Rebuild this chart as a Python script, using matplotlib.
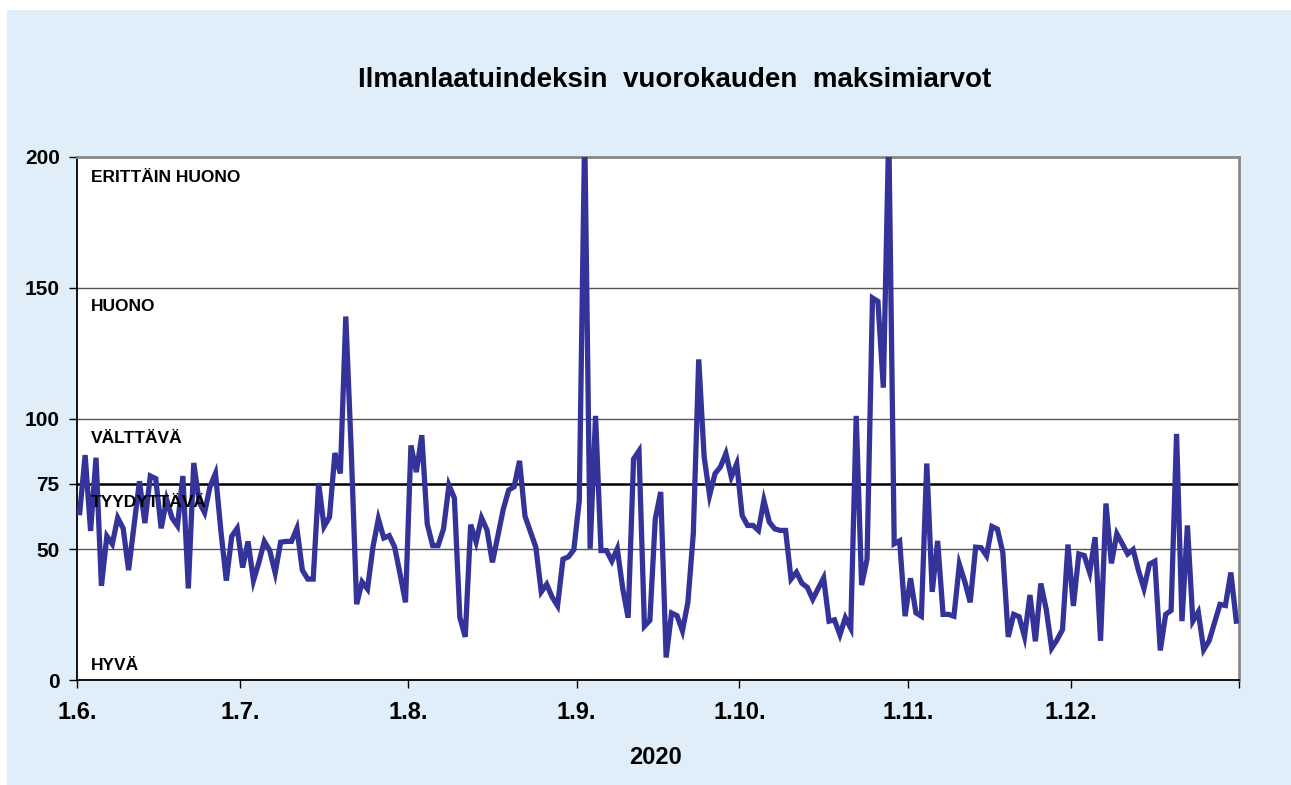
import numpy as np
import matplotlib
matplotlib.use('Agg')
import matplotlib.pyplot as plt
from matplotlib.patches import Rectangle

plt.rcParams['font.family'] = ['Liberation Sans', 'DejaVu Sans']

# daily maxima 1.6.-31.12.2020
june = [64, 86, 57, 85, 36, 55, 52, 62, 58, 42, 59, 76, 60, 78, 77, 58, 69, 62, 59, 78,
        35, 83, 68, 64, 74, 79, 57, 38, 55, 58]
july = [43, 53, 38, 45, 53, 49.5, 41, 52.7, 53, 53, 58, 42, 38.6, 38.6, 75.3, 58.7, 62.3,
        86.8, 79, 139, 88, 29, 37.5, 34.8, 50.8, 61.6, 54.3, 55.2, 50.8, 40.5, 29.7]
august = [89.7, 79.5, 93.6, 59.7, 51.4, 51.4, 57.8, 74.5, 69.6, 24, 16.5, 59.4, 52.8, 62,
          57.4, 45, 55, 65.3, 72.6, 73.9, 83.8, 62.7, 56.8, 50.8, 33.7, 36.6, 31.7, 28.4,
          46.2, 47.1, 49.8]
september = [68.6, 210, 50.2, 101, 49.5, 49.5, 45.5, 50.2, 35, 23.8, 84.5, 87.6, 20.6, 22.8,
             61.6, 71.9, 8.6, 25.6, 24.6, 18.8, 29.7, 55.9, 122.6, 85.3, 70.6, 78.9, 81.5,
             86.6, 77.6, 82.7]
october = [62.9, 59.1, 59.1, 57.2, 68.7, 60.4, 57.8, 57.2, 57.2, 38.6, 41.2, 37, 35.4, 30.9,
           35, 39, 22.5, 23, 17.3, 23.8, 19.8, 101, 36.3, 46.2, 146.1, 144.8, 111.8, 210,
           52.1, 53.2, 24.4]
november = [38.9, 25.7, 24.4, 82.8, 33.7, 53.2, 25.1, 25.1, 24.4, 44.2, 37.6, 29.7, 50.8,
            50.6, 47.5, 58.7, 57.7, 48.8, 16.5, 25.1, 24.2, 16.6, 32.5, 14.8, 36.9, 27, 12.2,
            15.4, 19.3, 51.8]
december = [28.3, 48.2, 47.6, 41.1, 54.6, 15, 67.5, 44.6, 55.9, 52.1, 48.2, 49.9, 41.8, 35,
            44.3, 45.4, 11.3, 25.1, 26.6, 94.1, 22.5, 59.1, 22.5, 26, 11.6, 15, 21.9, 28.9,
            28.5, 41.1, 22.5]

month_labels = ['1.6.', '1.7.', '1.8.', '1.9.', '1.10.', '1.11.', '1.12.']
months = [june, july, august, september, october, november, december]

classes = ['ERITTÄIN HUONO', 'HUONO', 'VÄLTTÄVÄ', 'TYYDYTTÄVÄ', 'HYVÄ']
class_y = [192, 143, 92.5, 68, 5.7]

values = np.concatenate(months)
days = np.arange(len(values)) + 0.5
month_starts = np.cumsum([0] + [len(m) for m in months])

fig = plt.figure(figsize=(12.91, 7.85), dpi=100)
fig.patch.set_facecolor('white')
fig.patches.append(Rectangle((7 / 1291, 0), 1 - 7 / 1291, 1 - 10 / 785,
                             transform=fig.transFigure, facecolor='#dfeef9',
                             edgecolor='none', zorder=-10))

ax = fig.add_axes([77 / 1291, 105 / 785, 1162 / 1291, 523 / 785])
ax.set_facecolor('white')

for g in [50, 100, 150]:
    ax.axhline(g, color='#555555', lw=1.0, zorder=1)
ax.axhline(75, color='black', lw=1.8, zorder=1)

ax.plot(days, values, color='#333399', lw=3.8, solid_joinstyle='miter', zorder=3)

ax.set_xlim(0, month_starts[-1])
ax.set_ylim(0, 200)
ax.set_xticks(month_starts)
ax.set_xticklabels(month_labels + [''], fontsize=17, fontweight='bold')
ax.set_yticks([0, 50, 75, 100, 150, 200])
ax.set_yticklabels(['0', '50', '75', '100', '150', '200'], fontsize=15, fontweight='bold')
ax.tick_params(axis='x', direction='out', length=6, width=1, pad=9)
ax.tick_params(axis='y', direction='out', length=6, width=1, pad=6.5)

for side in ['left', 'bottom']:
    ax.spines[side].set_color('black')
    ax.spines[side].set_linewidth(1.3)
for side in ['top', 'right']:
    ax.spines[side].set_color('#888888')
    ax.spines[side].set_linewidth(2)

for name, yv in zip(classes, class_y):
    ax.text(2.6, yv, name, fontsize=12.5, fontweight='bold', va='center', ha='left', zorder=4)

fig.text(675 / 1291, 1 - 80 / 785, 'Ilmanlaatuindeksin  vuorokauden  maksimiarvot',
         fontsize=20, fontweight='bold', ha='center', va='center')
fig.text(655 / 1291, 1 - 758 / 785, '2020', fontsize=17, fontweight='bold',
         ha='center', va='center')

fig.savefig('out.png', dpi=100)
